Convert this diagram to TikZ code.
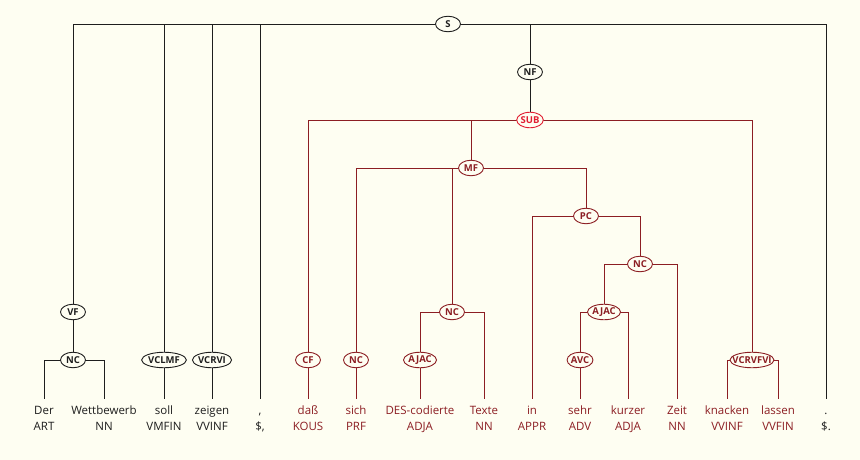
\documentclass[tikz,border=0pt]{standalone}
\usepackage{fontspec}
\setmainfont{Open Sans}
\usetikzlibrary{shapes.geometric}
\definecolor{bgc}{RGB}{254,254,242}
\definecolor{blk}{RGB}{30,30,30}
\definecolor{drd}{RGB}{140,30,35}
\definecolor{brd}{RGB}{225,30,50}
\pgfdeclarelayer{bgl}
\pgfdeclarelayer{edges}
\pgfsetlayers{bgl,edges,main}
\tikzset{
  cat/.style={ellipse, draw, fill=bgc, font=\bfseries\fontsize{9.5}{10}\selectfont, inner sep=0pt, minimum height=15.5pt, minimum width=25pt, line width=0.9pt},
  bcat/.style={cat, draw=blk, text=blk},
  rcat/.style={cat, draw=drd, text=drd},
  scat/.style={cat, draw=brd, text=brd},
  word/.style={font=\fontsize{11.5}{14}\selectfont, inner sep=0pt, anchor=base, text height=8.5pt, text depth=2.5pt},
  bword/.style={word, text=blk},
  rword/.style={word, text=drd},
  bl/.style={draw=blk, line width=0.7pt},
  rl/.style={draw=drd, line width=0.7pt},
}
\begin{document}
\begin{tikzpicture}[x=1pt,y=-1pt]
\begin{pgfonlayer}{bgl}
\fill[bgc] (0,0) rectangle (860,460);
\end{pgfonlayer}
\useasboundingbox (0,0) rectangle (860,460);
% words
\node[bword] (w1) at (44,414) {Der};
\node[bword] (t1) at (44,430) {ART};
\node[bword] (w2) at (104,414) {Wettbewerb};
\node[bword] (t2) at (104,430) {NN};
\node[bword] (w3) at (164,414) {soll};
\node[bword] (t3) at (164,430) {VMFIN};
\node[bword] (w4) at (212,414) {zeigen};
\node[bword] (t4) at (212,430) {VVINF};
\node[bword] (w5) at (260,414) {,};
\node[bword] (t5) at (260,430) {\$,};
\node[rword] (w6) at (308,414) {daß};
\node[rword] (t6) at (308,430) {KOUS};
\node[rword] (w7) at (356,414) {sich};
\node[rword] (t7) at (356,430) {PRF};
\node[rword] (w8) at (420,414) {DES-codierte};
\node[rword] (t8) at (420,430) {ADJA};
\node[rword] (w9) at (484,414) {Texte};
\node[rword] (t9) at (484,430) {NN};
\node[rword] (w10) at (532,414) {in};
\node[rword] (t10) at (532,430) {APPR};
\node[rword] (w11) at (580,414) {sehr};
\node[rword] (t11) at (580,430) {ADV};
\node[rword] (w12) at (628,414) {kurzer};
\node[rword] (t12) at (628,430) {ADJA};
\node[rword] (w13) at (677,414) {Zeit};
\node[rword] (t13) at (677,430) {NN};
\node[rword] (w14) at (727,414) {knacken};
\node[rword] (t14) at (727,430) {VVINF};
\node[rword] (w15) at (778,414) {lassen};
\node[rword] (t15) at (778,430) {VVFIN};
\node[bword] (w16) at (826,414) {.};
\node[bword] (t16) at (826,430) {\$.};
% black categories
\node[bcat] (S) at (448,24) {S};
\node[bcat] (NF) at (530,72) {NF};
\node[bcat] (VF) at (73,312) {VF};
\node[bcat] (NCa) at (73,360) {NC};
\node[bcat] (VCLMF) at (164,360) {VCLMF};
\node[bcat] (VCRVI) at (212,360) {VCRVI};
% red categories
\node[scat] (SUB) at (530,120) {SUB};
\node[rcat] (MF) at (471,168) {MF};
\node[rcat] (PC) at (586,216) {PC};
\node[rcat] (NCz) at (640,264) {NC};
\node[rcat] (NCt) at (452,312) {NC};
\node[rcat] (AJACb) at (604,312) {AJAC};
\node[rcat] (CF) at (308,360) {CF};
\node[rcat] (NCs) at (356,360) {NC};
\node[rcat] (AJACa) at (420,360) {AJAC};
\node[rcat] (AVC) at (580,360) {AVC};
\node[rcat, inner xsep=-4pt] (VCR) at (752,360) {VCRVFVI};
\begin{pgfonlayer}{edges}
\draw[bl] (S.center) -| (VF);
\draw[bl] (S.center) -| (VCLMF);
\draw[bl] (S.center) -| (VCRVI);
\draw[bl] (S.center) -| ([yshift=6pt]w5.north);
\draw[bl] (S.center) -| (NF);
\draw[bl] (S.center) -| ([yshift=6pt]w16.north);
\draw[bl] (VF) -- (NCa);
\draw[bl] (NCa.center) -| ([yshift=6pt]w1.north);
\draw[bl] (NCa.center) -| ([yshift=6pt]w2.north);
\draw[bl] (VCLMF) -- ([yshift=6pt]w3.north);
\draw[bl] (VCRVI) -- ([yshift=6pt]w4.north);
\draw[bl] (NF) -- (SUB);
\draw[rl] (SUB.center) -| (CF);
\draw[rl] (SUB.center) -| (MF);
\draw[rl] (SUB.center) -| (VCR);
\draw[rl] (CF) -- ([yshift=6pt]w6.north);
\draw[rl] (MF.center) -| (NCs);
\draw[rl] (MF.center) -| (NCt);
\draw[rl] (MF.center) -| (PC);
\draw[rl] (NCs) -- ([yshift=6pt]w7.north);
\draw[rl] (NCt.center) -| (AJACa);
\draw[rl] (NCt.center) -| ([yshift=6pt]w9.north);
\draw[rl] (AJACa) -- ([yshift=6pt]w8.north);
\draw[rl] (PC.center) -| ([yshift=6pt]w10.north);
\draw[rl] (PC.center) -| (NCz);
\draw[rl] (NCz.center) -| (AJACb);
\draw[rl] (NCz.center) -| ([yshift=6pt]w13.north);
\draw[rl] (AJACb.center) -| (AVC);
\draw[rl] (AJACb.center) -| ([yshift=6pt]w12.north);
\draw[rl] (AVC) -- ([yshift=6pt]w11.north);
\draw[rl] (VCR.center) -| ([yshift=6pt]w14.north);
\draw[rl] (VCR.center) -| ([yshift=6pt]w15.north);
\end{pgfonlayer}
\end{tikzpicture}
\end{document}
